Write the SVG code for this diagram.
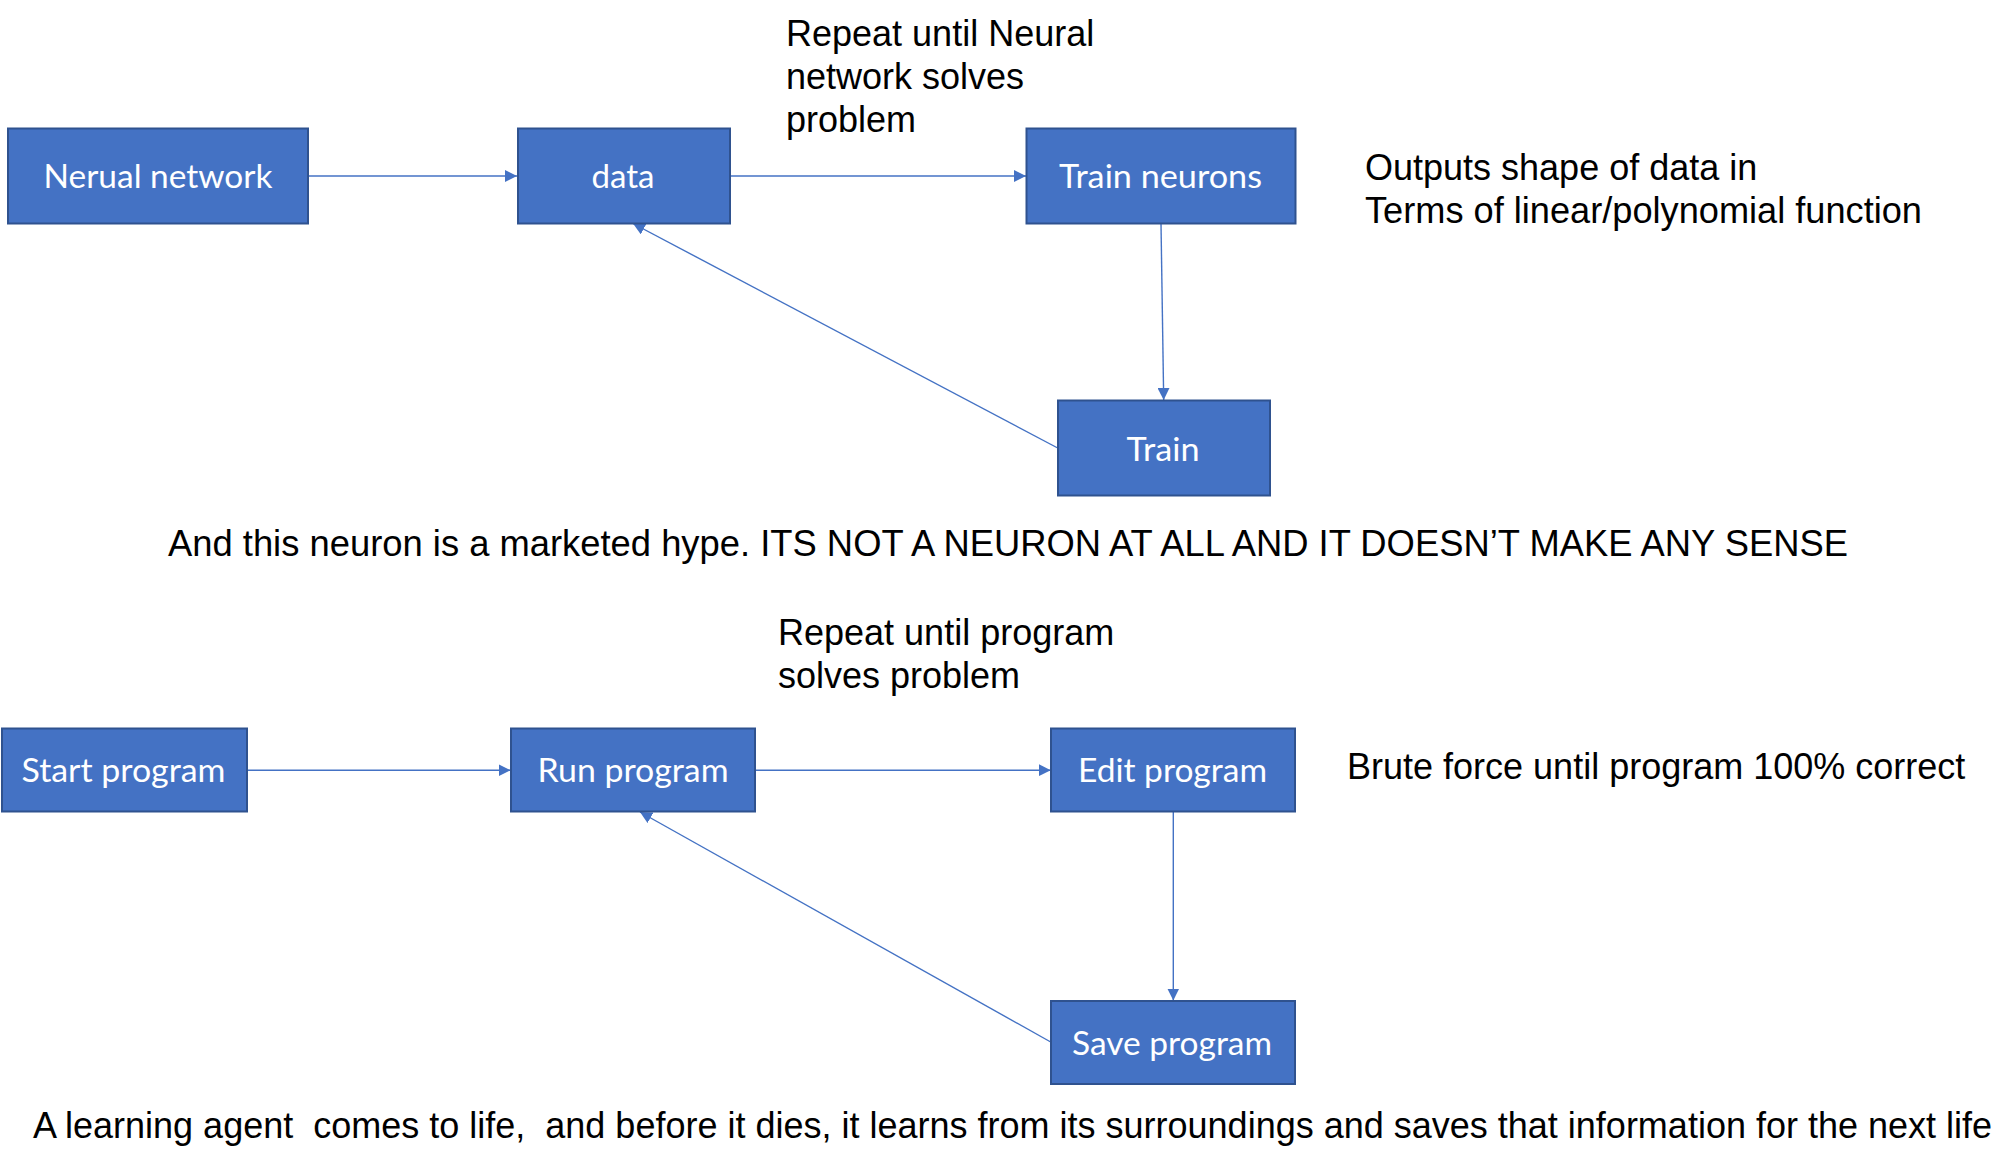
<svg xmlns="http://www.w3.org/2000/svg" width="2014" height="1168" viewBox="0 0 2014 1168">
<style>
.box{fill:#4472C4;stroke:#2F528F;stroke-width:2}
.lbl{font-family:Lato,"Open Sans","Noto Sans",sans-serif;font-size:33px;fill:#FFFFFF;text-anchor:middle}
.txt{font-family:"Liberation Sans",Arial,sans-serif;font-size:36px;fill:#000000;white-space:pre}
.con{stroke:#4472C4;stroke-width:1.4;fill:none}
</style>
<defs>
<marker id="ah" markerUnits="userSpaceOnUse" markerWidth="12" markerHeight="12" refX="11" refY="5.5" orient="auto" viewBox="0 0 11 11">
<path d="M0,0 L11,5.5 L0,11 Z" fill="#4472C4"/>
</marker>
</defs>
<rect width="2014" height="1168" fill="#FFFFFF"/>
<g id="connectors">
<line class="con" x1="308.5" y1="176" x2="517" y2="176" marker-end="url(#ah)"/>
<line class="con" x1="730" y1="176" x2="1026" y2="176" marker-end="url(#ah)"/>
<line class="con" x1="1161" y1="223.5" x2="1163.7" y2="400" marker-end="url(#ah)"/>
<line class="con" x1="1057.7" y1="448" x2="633" y2="223.5" marker-end="url(#ah)"/>
<line class="con" x1="246.6" y1="770.2" x2="510.6" y2="770.2" marker-end="url(#ah)"/>
<line class="con" x1="755.3" y1="770.2" x2="1050.7" y2="770.2" marker-end="url(#ah)"/>
<line class="con" x1="1173.3" y1="811.2" x2="1173.3" y2="1000.5" marker-end="url(#ah)"/>
<line class="con" x1="1050.7" y1="1042" x2="640" y2="812" marker-end="url(#ah)"/>
</g>
<g id="node-nerual-network">
<rect class="box" x="8" y="128.5" width="300" height="95"/>
<text class="lbl" x="158" y="188" textLength="229" lengthAdjust="spacingAndGlyphs">Nerual network</text>
</g>
<g id="node-data">
<rect class="box" x="518" y="128.5" width="212" height="95"/>
<text class="lbl" x="623" y="188" textLength="63" lengthAdjust="spacingAndGlyphs">data</text>
</g>
<g id="node-train-neurons">
<rect class="box" x="1026.5" y="128.5" width="269" height="95"/>
<text class="lbl" x="1160.5" y="188" textLength="203" lengthAdjust="spacingAndGlyphs">Train neurons</text>
</g>
<g id="node-train">
<rect class="box" x="1058" y="400.5" width="212" height="95"/>
<text class="lbl" x="1163" y="460.5" textLength="73" lengthAdjust="spacingAndGlyphs">Train</text>
</g>
<g id="node-start-program">
<rect class="box" x="2" y="728.5" width="245" height="83"/>
<text class="lbl" x="123.5" y="781.5" textLength="204" lengthAdjust="spacingAndGlyphs">Start program</text>
</g>
<g id="node-run-program">
<rect class="box" x="511" y="728.5" width="244" height="83"/>
<text class="lbl" x="633" y="781.5" textLength="191" lengthAdjust="spacingAndGlyphs">Run program</text>
</g>
<g id="node-edit-program">
<rect class="box" x="1051" y="728.5" width="244" height="83"/>
<text class="lbl" x="1172.5" y="781.5" textLength="189" lengthAdjust="spacingAndGlyphs">Edit program</text>
</g>
<g id="node-save-program">
<rect class="box" x="1051" y="1001" width="244" height="83"/>
<text class="lbl" x="1172" y="1055" textLength="200" lengthAdjust="spacingAndGlyphs">Save program</text>
</g>
<g id="annotations">
<text class="txt" x="786" y="46">Repeat until Neural</text>
<text class="txt" x="786" y="89">network solves</text>
<text class="txt" x="786" y="132">problem</text>
<text class="txt" x="1365" y="180">Outputs shape of data in</text>
<text class="txt" x="1365" y="223" textLength="557" lengthAdjust="spacingAndGlyphs">Terms of linear/polynomial function</text>
<text class="txt" x="168" y="556" textLength="1680" lengthAdjust="spacingAndGlyphs">And this neuron is a marketed hype. ITS NOT A NEURON AT ALL AND IT DOESN’T MAKE ANY SENSE</text>
<text class="txt" x="778" y="645">Repeat until program</text>
<text class="txt" x="778" y="688">solves problem</text>
<text class="txt" x="1347" y="779">Brute force until program 100% correct</text>
<text class="txt" x="33" y="1138">A learning agent  comes to life,  and before it dies, it learns from its surroundings and saves that information for the next life</text>
</g>
</svg>
